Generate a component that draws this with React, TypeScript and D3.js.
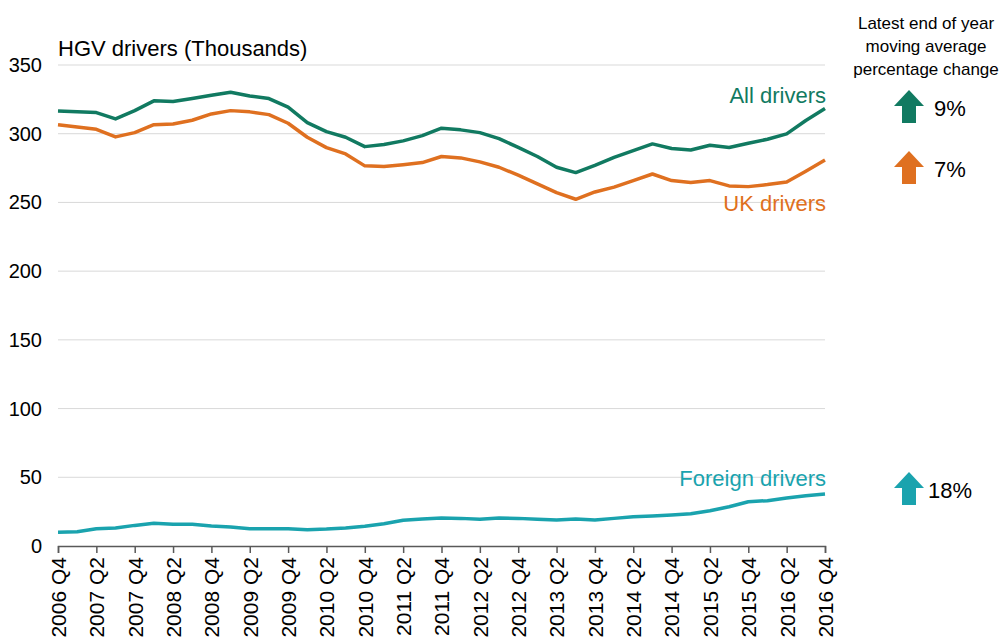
import React, { useEffect, useRef } from 'react';
import * as d3 from 'd3';

// quarterly moving averages, thousands of HGV drivers
const quarters = [
  '2006 Q4', '2007 Q1', '2007 Q2', '2007 Q3', '2007 Q4', '2008 Q1', '2008 Q2', '2008 Q3',
  '2008 Q4', '2009 Q1', '2009 Q2', '2009 Q3', '2009 Q4', '2010 Q1', '2010 Q2', '2010 Q3',
  '2010 Q4', '2011 Q1', '2011 Q2', '2011 Q3', '2011 Q4', '2012 Q1', '2012 Q2', '2012 Q3',
  '2012 Q4', '2013 Q1', '2013 Q2', '2013 Q3', '2013 Q4', '2014 Q1', '2014 Q2', '2014 Q3',
  '2014 Q4', '2015 Q1', '2015 Q2', '2015 Q3', '2015 Q4', '2016 Q1', '2016 Q2', '2016 Q3',
  '2016 Q4',
];

const allDrivers = [
  316.6, 316, 315.4, 310.8, 316.8, 323.9, 323.4, 325.6, 328, 330.2,
  327.5, 325.6, 319.3, 308.1, 301.5, 297.4, 290.6, 292.1, 294.8, 298.6,
  304, 302.8, 300.8, 296.4, 290, 283.4, 275.6, 271.7, 277, 282.8,
  287.7, 292.6, 289.2, 288.2, 291.6, 290, 293, 296, 299.9, 309.6,
  318.3,
];

const ukDrivers = [
  306.6, 304.9, 303.2, 297.7, 300.8, 306.6, 307.1, 309.8, 314.4, 316.8,
  315.9, 313.9, 307.6, 297.4, 289.9, 285.3, 276.6, 276.1, 277.5, 279,
  283.4, 282.4, 279.5, 275.6, 269.8, 263.5, 257.1, 252.3, 257.6, 261.1,
  265.9, 270.7, 265.9, 264.5, 265.9, 262, 261.5, 263, 264.9, 272.7,
  280.9,
];

const foreignDrivers = [
  10, 10.4, 12.6, 13.1, 15, 16.5, 15.8, 15.8, 14.6, 13.8,
  12.6, 12.6, 12.6, 11.9, 12.3, 13.1, 14.3, 16.2, 18.7, 19.6,
  20.4, 20.1, 19.4, 20.4, 20.1, 19.4, 18.9, 19.6, 18.9, 20.1,
  21.3, 21.8, 22.6, 23.5, 25.7, 28.6, 32.2, 33, 34.9, 36.6,
  37.8,
];

const yTicks = [0, 50, 100, 150, 200, 250, 300, 350];

const seriesNames = ['All drivers', 'UK drivers', 'Foreign drivers'];
const seriesColors = ['#117a61', '#df7020', '#1aa3ae'];
const changeLabels = ['9%', '7%', '18%'];
const panelTitle = ['Latest end of year', 'moving average', 'percentage change'];

const App = () => {
  const svgRef = useRef<SVGSVGElement>(null);

  useEffect(() => {
    const svg = d3.select(svgRef.current);
    svg.selectAll('*').remove();

    const font = '"Liberation Sans", Arial, sans-serif';

    const x = d3.scaleLinear()
      .domain([0, quarters.length - 1])
      .range([58, 825]);

    const y = d3.scaleLinear()
      .domain([0, 350])
      .range([546, 65]);

    // gridlines
    svg.append('g')
      .selectAll('line')
      .data(yTicks.filter(d => d > 0))
      .enter()
      .append('line')
      .attr('x1', x(0))
      .attr('x2', x(quarters.length - 1))
      .attr('y1', d => y(d))
      .attr('y2', d => y(d))
      .attr('stroke', '#d9d9d9')
      .attr('stroke-width', 1);

    // y tick labels
    svg.append('g')
      .selectAll('text')
      .data(yTicks)
      .enter()
      .append('text')
      .attr('x', 42)
      .attr('y', d => y(d))
      .attr('dy', '0.35em')
      .attr('text-anchor', 'end')
      .style('font-family', font)
      .style('font-size', '20px')
      .attr('fill', '#000')
      .text(d => d);

    // x axis
    const tickIdx = d3.range(0, quarters.length, 2);
    const xAxis = svg.append('g')
      .attr('transform', `translate(0,${y(0)})`)
      .call(d3.axisBottom(x)
        .tickValues(tickIdx)
        .tickSize(7)
        .tickFormat(i => quarters[i as number])
      );
    xAxis.select('.domain').attr('stroke', '#595959').attr('stroke-width', 1.5);
    xAxis.selectAll('.tick line').attr('stroke', '#595959').attr('stroke-width', 1.5);
    xAxis.selectAll('.tick text')
      .attr('transform', 'rotate(-90)')
      .attr('x', -11)
      .attr('y', 0)
      .attr('dy', '0.35em')
      .style('text-anchor', 'end')
      .style('font-family', font)
      .style('font-size', '21px')
      .attr('fill', '#000');

    // title
    svg.append('text')
      .attr('x', 58)
      .attr('y', 56)
      .style('font-family', font)
      .style('font-size', '22px')
      .attr('fill', '#000')
      .text('HGV drivers (Thousands)');

    // lines
    const line = d3.line<number>()
      .x((_, i) => x(i))
      .y(d => y(d));

    [allDrivers, ukDrivers, foreignDrivers].forEach((series, k) => {
      svg.append('path')
        .datum(series)
        .attr('d', line)
        .attr('fill', 'none')
        .attr('stroke', seriesColors[k])
        .attr('stroke-width', 3.5)
        .attr('stroke-linejoin', 'round');
    });

    // series labels
    const labelY = [103, 211, 486];
    seriesNames.forEach((name, k) => {
      svg.append('text')
        .attr('x', 826)
        .attr('y', labelY[k])
        .attr('text-anchor', 'end')
        .style('font-family', font)
        .style('font-size', '22px')
        .attr('fill', seriesColors[k])
        .text(name);
    });

    // right panel
    panelTitle.forEach((t, k) => {
      svg.append('text')
        .attr('x', 926)
        .attr('y', 29 + k * 23)
        .attr('text-anchor', 'middle')
        .style('font-family', font)
        .style('font-size', '17px')
        .attr('fill', '#000')
        .text(t);
    });

    const arrowTop = [90, 151, 472];
    const arrowPath = (x0: number, top: number) => {
      const w = 30, h = 33, head = 16, shaft = 14;
      const cx = x0 + w / 2;
      return `M${cx},${top} L${x0 + w},${top + head} L${cx + shaft / 2},${top + head} L${cx + shaft / 2},${top + h} L${cx - shaft / 2},${top + h} L${cx - shaft / 2},${top + head} L${x0},${top + head} Z`;
    };
    changeLabels.forEach((lbl, k) => {
      svg.append('path')
        .attr('d', arrowPath(894, arrowTop[k]))
        .attr('fill', seriesColors[k]);
      svg.append('text')
        .attr('x', k === 2 ? 928 : 934)
        .attr('y', arrowTop[k] + 26)
        .style('font-family', font)
        .style('font-size', '22px')
        .attr('fill', '#000')
        .text(lbl);
    });
  }, []);

  return (
    <div style={{ position: 'fixed', left: 0, top: 0 }}>
      <svg ref={svgRef} width={999} height={637} style={{ display: 'block', background: '#fff' }}></svg>
    </div>
  );
};

export default App;
